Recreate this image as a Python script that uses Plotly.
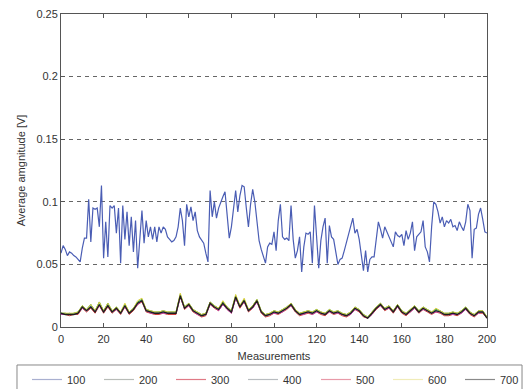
import plotly.graph_objects as go

measurements = list(range(0, 201))
meas_step2 = list(range(0, 201, 2))

s100 = [0.059, 0.065, 0.062, 0.057, 0.060, 0.059, 0.057, 0.056, 0.054, 0.052,
        0.063, 0.071, 0.071, 0.102, 0.068, 0.095, 0.094, 0.095, 0.080, 0.113,
        0.055, 0.084, 0.056, 0.097, 0.095, 0.097, 0.075, 0.095, 0.051, 0.097,
        0.070, 0.092, 0.065, 0.088, 0.060, 0.085, 0.047, 0.068, 0.093, 0.067,
        0.085, 0.072, 0.080, 0.070, 0.080, 0.068, 0.080, 0.075, 0.080, 0.078,
        0.072, 0.070, 0.068, 0.069, 0.072, 0.080, 0.095, 0.085, 0.065, 0.098,
        0.088, 0.096, 0.085, 0.092, 0.077, 0.072, 0.069, 0.067, 0.059, 0.052,
        0.109, 0.088, 0.100, 0.087, 0.095, 0.100, 0.104, 0.108, 0.090, 0.071,
        0.080, 0.095, 0.109, 0.092, 0.105, 0.113, 0.112, 0.095, 0.080, 0.098,
        0.110, 0.100, 0.085, 0.069, 0.062, 0.056, 0.051, 0.064, 0.067, 0.066,
        0.076, 0.061, 0.085, 0.098, 0.072, 0.070, 0.071, 0.069, 0.097, 0.070,
        0.055, 0.061, 0.072, 0.044, 0.064, 0.075, 0.074, 0.076, 0.051, 0.097,
        0.072, 0.047, 0.069, 0.080, 0.087, 0.051, 0.081, 0.072, 0.070, 0.060,
        0.050, 0.054, 0.055, 0.061, 0.068, 0.075, 0.081, 0.087, 0.075, 0.078,
        0.070, 0.058, 0.045, 0.061, 0.044, 0.054, 0.056, 0.056, 0.070, 0.084,
        0.078, 0.071, 0.080, 0.076, 0.072, 0.068, 0.064, 0.076, 0.073, 0.072,
        0.074, 0.065, 0.077, 0.070, 0.075, 0.084, 0.061, 0.072, 0.074, 0.076,
        0.085, 0.064, 0.060, 0.052, 0.080, 0.100, 0.098, 0.092, 0.083, 0.088,
        0.080, 0.085, 0.083, 0.086, 0.080, 0.081, 0.077, 0.084, 0.080, 0.077,
        0.084, 0.098, 0.093, 0.055, 0.078, 0.079, 0.090, 0.095, 0.086, 0.076,
        0.075]

s700 = [0.011, 0.010, 0.010, 0.010, 0.011, 0.016, 0.013, 0.016, 0.012, 0.018,
        0.012, 0.017, 0.012, 0.015, 0.011, 0.017, 0.011, 0.014, 0.019, 0.021,
        0.013, 0.012, 0.011, 0.011, 0.012, 0.011, 0.011, 0.011, 0.025, 0.015,
        0.018, 0.013, 0.011, 0.009, 0.010, 0.019, 0.016, 0.014, 0.019, 0.015,
        0.012, 0.024, 0.016, 0.021, 0.013, 0.016, 0.021, 0.012, 0.009, 0.010,
        0.012, 0.011, 0.013, 0.015, 0.018, 0.013, 0.010, 0.011, 0.012, 0.011,
        0.013, 0.011, 0.010, 0.013, 0.011, 0.012, 0.010, 0.009, 0.011, 0.015,
        0.013, 0.009, 0.007, 0.011, 0.015, 0.018, 0.014, 0.016, 0.012, 0.017,
        0.012, 0.010, 0.013, 0.016, 0.012, 0.015, 0.013, 0.011, 0.013, 0.012,
        0.010, 0.010, 0.011, 0.010, 0.012, 0.015, 0.011, 0.009, 0.012, 0.012,
        0.007]

s200 = [0.011, 0.011, 0.010, 0.011, 0.012, 0.017, 0.014, 0.018, 0.013, 0.020,
        0.013, 0.019, 0.013, 0.016, 0.012, 0.018, 0.012, 0.015, 0.020, 0.022,
        0.014, 0.013, 0.012, 0.012, 0.013, 0.012, 0.012, 0.012, 0.026, 0.016,
        0.019, 0.014, 0.012, 0.010, 0.011, 0.020, 0.017, 0.015, 0.020, 0.016,
        0.013, 0.025, 0.017, 0.022, 0.014, 0.017, 0.022, 0.013, 0.010, 0.011,
        0.013, 0.012, 0.014, 0.016, 0.019, 0.014, 0.011, 0.012, 0.013, 0.012,
        0.014, 0.012, 0.011, 0.014, 0.012, 0.013, 0.011, 0.010, 0.012, 0.016,
        0.014, 0.010, 0.008, 0.012, 0.016, 0.019, 0.015, 0.017, 0.013, 0.018,
        0.013, 0.011, 0.014, 0.017, 0.013, 0.016, 0.014, 0.012, 0.014, 0.013,
        0.011, 0.011, 0.012, 0.011, 0.013, 0.016, 0.012, 0.010, 0.013, 0.013,
        0.008]

s300 = [0.010, 0.010, 0.009, 0.010, 0.010, 0.015, 0.012, 0.015, 0.011, 0.017,
        0.011, 0.016, 0.011, 0.014, 0.010, 0.016, 0.010, 0.013, 0.018, 0.020,
        0.012, 0.011, 0.010, 0.010, 0.011, 0.010, 0.010, 0.010, 0.024, 0.014,
        0.017, 0.012, 0.010, 0.008, 0.009, 0.018, 0.015, 0.013, 0.018, 0.014,
        0.011, 0.023, 0.015, 0.020, 0.012, 0.015, 0.020, 0.011, 0.008, 0.009,
        0.011, 0.010, 0.012, 0.014, 0.017, 0.012, 0.009, 0.010, 0.011, 0.010,
        0.012, 0.010, 0.009, 0.012, 0.010, 0.011, 0.009, 0.008, 0.010, 0.014,
        0.012, 0.008, 0.007, 0.010, 0.014, 0.017, 0.013, 0.015, 0.011, 0.016,
        0.011, 0.009, 0.012, 0.015, 0.011, 0.014, 0.012, 0.010, 0.012, 0.011,
        0.009, 0.009, 0.010, 0.009, 0.011, 0.014, 0.010, 0.008, 0.011, 0.011,
        0.007]

s400 = [0.011, 0.010, 0.011, 0.010, 0.011, 0.016, 0.013, 0.017, 0.012, 0.018,
        0.012, 0.018, 0.012, 0.015, 0.011, 0.017, 0.011, 0.014, 0.019, 0.021,
        0.013, 0.012, 0.011, 0.012, 0.012, 0.011, 0.012, 0.011, 0.025, 0.015,
        0.018, 0.013, 0.011, 0.009, 0.010, 0.019, 0.016, 0.014, 0.019, 0.015,
        0.012, 0.024, 0.016, 0.021, 0.013, 0.016, 0.021, 0.012, 0.009, 0.010,
        0.012, 0.011, 0.013, 0.015, 0.018, 0.013, 0.010, 0.011, 0.012, 0.011,
        0.013, 0.011, 0.010, 0.013, 0.011, 0.012, 0.010, 0.009, 0.011, 0.015,
        0.013, 0.009, 0.008, 0.011, 0.015, 0.018, 0.014, 0.016, 0.012, 0.017,
        0.012, 0.010, 0.013, 0.016, 0.012, 0.015, 0.013, 0.011, 0.013, 0.012,
        0.010, 0.010, 0.011, 0.010, 0.012, 0.015, 0.011, 0.009, 0.012, 0.012,
        0.008]

s500 = [0.010, 0.010, 0.010, 0.010, 0.011, 0.015, 0.013, 0.016, 0.012, 0.017,
        0.012, 0.017, 0.012, 0.014, 0.011, 0.016, 0.011, 0.014, 0.018, 0.021,
        0.013, 0.011, 0.011, 0.011, 0.011, 0.011, 0.011, 0.011, 0.024, 0.015,
        0.017, 0.013, 0.010, 0.009, 0.010, 0.018, 0.016, 0.013, 0.018, 0.014,
        0.011, 0.023, 0.016, 0.020, 0.013, 0.015, 0.020, 0.012, 0.009, 0.010,
        0.011, 0.011, 0.012, 0.015, 0.017, 0.013, 0.010, 0.010, 0.012, 0.010,
        0.012, 0.011, 0.010, 0.012, 0.011, 0.011, 0.010, 0.009, 0.010, 0.014,
        0.013, 0.009, 0.007, 0.010, 0.015, 0.017, 0.014, 0.015, 0.012, 0.016,
        0.012, 0.010, 0.012, 0.015, 0.012, 0.014, 0.013, 0.011, 0.012, 0.012,
        0.010, 0.010, 0.010, 0.010, 0.011, 0.014, 0.011, 0.009, 0.011, 0.012,
        0.007]

s600 = [0.011, 0.011, 0.011, 0.011, 0.012, 0.017, 0.014, 0.018, 0.013, 0.020,
        0.013, 0.019, 0.013, 0.016, 0.012, 0.019, 0.012, 0.015, 0.021, 0.023,
        0.014, 0.013, 0.012, 0.012, 0.013, 0.012, 0.012, 0.012, 0.027, 0.016,
        0.019, 0.014, 0.012, 0.010, 0.011, 0.020, 0.017, 0.015, 0.021, 0.016,
        0.013, 0.026, 0.017, 0.023, 0.014, 0.017, 0.022, 0.013, 0.010, 0.011,
        0.013, 0.012, 0.014, 0.016, 0.019, 0.014, 0.011, 0.012, 0.013, 0.012,
        0.014, 0.012, 0.011, 0.014, 0.012, 0.013, 0.011, 0.010, 0.012, 0.016,
        0.014, 0.010, 0.008, 0.012, 0.016, 0.019, 0.015, 0.017, 0.013, 0.018,
        0.013, 0.011, 0.014, 0.017, 0.013, 0.016, 0.014, 0.012, 0.015, 0.013,
        0.011, 0.011, 0.012, 0.011, 0.013, 0.016, 0.012, 0.010, 0.013, 0.013,
        0.008]

names = ["100", "200", "300", "400", "500", "600", "700"]
line_colors = ["#4a5db4", "#2f9a3a", "#d03a3a", "#40b0c0", "#c040b8", "#d8cf3a", "#1e1e1e"]
legend_colors = ["#a9b0d0", "#b8bcb8", "#e07a86", "#b8bcc0", "#e89aa8", "#f0ecb8", "#8a8a8a"]

fig = go.Figure()
fig.add_trace(go.Scatter(x=measurements, y=s100, mode="lines",
                         line=dict(color=line_colors[0], width=1.2), showlegend=False))
low = [s200, s300, s400, s500, s600, s700]
for i, s in enumerate(low):
    fig.add_trace(go.Scatter(x=meas_step2, y=s, mode="lines",
                             line=dict(color=line_colors[i + 1], width=1.3 if i == 5 else 1.0),
                             showlegend=False))
for k, (name, c) in enumerate(zip(names, legend_colors)):
    fig.add_trace(go.Scatter(x=[None], y=[None], mode="lines", name=name,
                             line=dict(color=c, width=1.2),
                             legend="legend" if k < 4 else "legend2"))

# legend frame
fig.add_shape(type="rect", xref="paper", yref="paper",
              x0=-0.1033, x1=1.0822, y0=-0.1214, y1=-0.21,
              line=dict(color="#888", width=1), fillcolor="rgba(0,0,0,0)", layer="above")

axis_font = dict(family="Liberation Sans, Arial, sans-serif", size=11, color="#333")
leg_common = dict(orientation="h", yref="paper", y=-0.1214, yanchor="top",
                  xanchor="left", borderwidth=0, bgcolor="rgba(0,0,0,0)",
                  entrywidth=27, entrywidthmode="pixels", font=dict(size=11),
                  itemwidth=30, tracegroupgap=0)
fig.update_layout(
    width=526, height=389,
    margin=dict(l=61, r=39, t=14, b=62, autoexpand=False),
    paper_bgcolor="white", plot_bgcolor="white",
    font=axis_font,
    xaxis=dict(range=[0, 200], tickvals=list(range(0, 201, 20)), showgrid=False,
               zeroline=False, showline=True, linecolor="#555", linewidth=1, mirror="ticks",
               ticks="inside", ticklen=4, tickcolor="#555", ticklabelstandoff=2,
               title=dict(text="Measurements", standoff=8, font=dict(size=11)),
               tickfont=dict(size=11)),
    yaxis=dict(range=[0, 0.25], tickvals=[0, 0.05, 0.1, 0.15, 0.2, 0.25],
               ticktext=["0", "0.05", "0.1", "0.15", "0.2", "0.25"],
               showgrid=True, gridcolor="#666", griddash="4px,4px", gridwidth=0.8,
               zeroline=False, showline=True, linecolor="#555", linewidth=1, mirror="ticks",
               ticks="inside", ticklen=4, tickcolor="#555", ticklabelstandoff=0,
               title=dict(text="Average amgnitude [V]", standoff=8, font=dict(size=11)),
               tickfont=dict(size=11)),
    legend=dict(x=-0.0798, **leg_common),
    legend2=dict(x=0.5986, **leg_common),
)

fig.write_html("out.html", config={"displayModeBar": False},
               post_script="document.body.style.margin='0';")
